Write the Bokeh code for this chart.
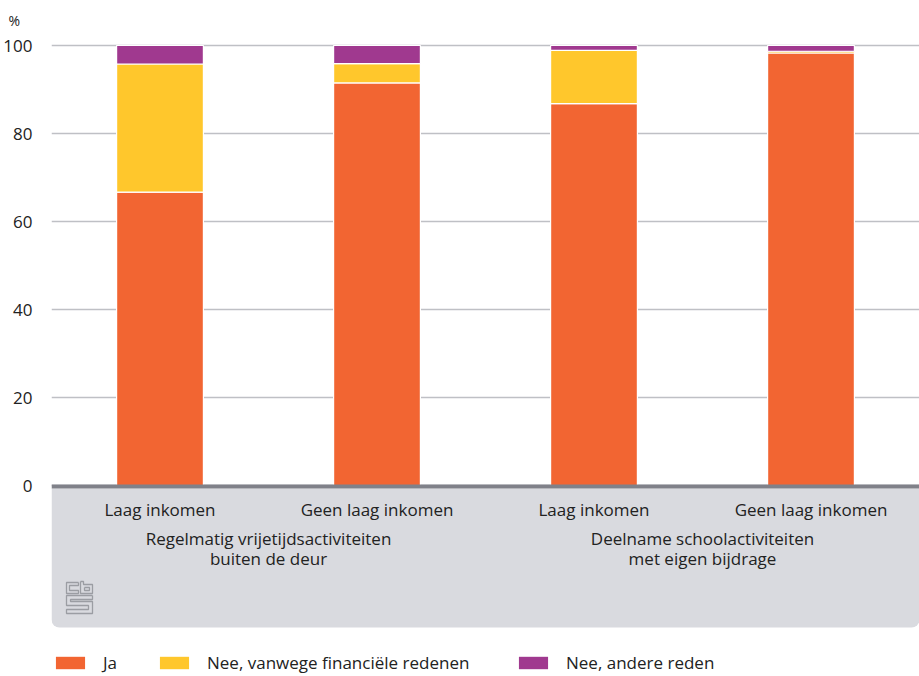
from bokeh.plotting import figure
from bokeh.models import Range1d, FixedTicker, Legend, LegendItem, Span, ColumnDataSource
from bokeh.core.properties import value
from bokeh.embed import file_html
from bokeh.resources import INLINE

# ---- data ----
categories = ["Laag inkomen", "Geen laag inkomen", "Laag inkomen", "Geen laag inkomen"]
groups = ["Regelmatig vrijetijdsactiviteiten\nbuiten de deur",
          "Deelname schoolactiviteiten\nmet eigen bijdrage"]
group_of = [0, 0, 1, 1]
series = ["Ja", "Nee, vanwege financiële redenen", "Nee, andere reden"]
ja = [66.7, 91.5, 86.8, 98.3]
nee_fin = [29.1, 4.4, 12.1, 0.4]
nee_andere = [4.2, 4.1, 1.1, 1.3]
y_ticks = [0, 20, 40, 60, 80, 100]
unit_label = "%"

colors = ["#f26532", "#ffc72c", "#a0398f"]
TEXT = "#222222"
FONT = "Open Sans"
FS = "17px"

W, H = 919, 676
LEFT, TOP = 51, 40
frame_w, frame_h = W - LEFT, H - TOP
x0, x1 = 0, len(categories)
y1 = 101.14
px_y = 1 / 4.4
y0 = y1 - frame_h * px_y
px_x = (x1 - x0) / frame_w

xs = [i + 0.5 for i in range(len(categories))]
source = ColumnDataSource(dict(x=xs, ja=ja, nee_fin=nee_fin, nee_andere=nee_andere))

p = figure(width=W, height=H, x_range=Range1d(x0, x1), y_range=Range1d(y0, y1),
           output_backend="svg", toolbar_location=None, x_axis_location=None,
           min_border_left=LEFT, min_border_right=0, min_border_top=TOP, min_border_bottom=0)
p.outline_line_color = None
p.background_fill_color = "white"

# unit label as title
p.title.text = unit_label
p.title.align = "left"
p.title.vertical_align = "top"
p.title.offset = 8 - LEFT
p.title.standoff = 18
p.title.text_font = FONT
p.title.text_font_size = "14px"
p.title.text_font_style = "normal"
p.title.text_color = TEXT

# y axis
p.yaxis.ticker = FixedTicker(ticks=y_ticks)
p.yaxis.axis_line_color = None
p.yaxis.major_tick_line_color = None
p.yaxis.minor_tick_line_color = None
p.yaxis.major_label_standoff = 13
p.yaxis.major_label_text_font = FONT
p.yaxis.major_label_text_font_size = FS
p.yaxis.major_label_text_color = TEXT
p.xgrid.visible = False
p.ygrid.ticker = FixedTicker(ticks=y_ticks)
p.ygrid.grid_line_color = "#bfc0c5"
p.ygrid.grid_line_width = 1.5

# grey category band
band_top = -3 * px_y
band_bottom = -142 * px_y
p.quad(left=x0, right=x1, top=band_top, bottom=band_bottom, fill_color="#d9dadf",
       line_color=None, border_radius=(0, 0, 8, 8))

# bars
renderers = p.vbar_stack(["ja", "nee_fin", "nee_andere"], x="x", width=0.4, source=source,
                         fill_color=colors, line_color="white", line_width=1.2)

# axis baseline
p.add_layout(Span(location=-1 * px_y, dimension="width", line_color="#808189", line_width=4))

# category labels
p.text(x=xs, y=[-24 * px_y] * len(xs), text=categories, text_align="center",
       text_baseline="middle", text_font=value(FONT), text_font_size=FS, text_color=TEXT)
gx, gy, gt = [], [], []
for g, name in enumerate(groups):
    members = [xs[i] for i in range(len(xs)) if group_of[i] == g]
    cx = sum(members) / len(members)
    for k, line in enumerate(name.split("\n")):
        gx.append(cx)
        gy.append(-(53 + 20 * k) * px_y)
        gt.append(line)
p.text(x=gx, y=gy, text=gt, text_align="center", text_baseline="middle",
       text_font=value(FONT), text_font_size=FS, text_color=TEXT)

# cbs logo (decorative), in pixel offsets
ox, oy = x0 + 15 * px_x, -96 * px_y
paths = [
    [(12, 1), (0, 1), (0, 12), (12, 12), (12, 9), (3, 9), (3, 4), (12, 4), (12, 1)],
    [(14, 0), (17, 0), (17, 3), (26, 3), (26, 12), (14, 12), (14, 0)],
    [(18, 6), (23, 6), (23, 9), (18, 9), (18, 6)],
    [(26, 14), (0, 14), (0, 24), (22, 24), (22, 28), (0, 28), (0, 32), (26, 32),
     (26, 20), (4, 20), (4, 18), (26, 18), (26, 14)],
]
p.multi_line(xs=[[ox + a * px_x for a, b in pth] for pth in paths],
             ys=[[oy - b * px_y for a, b in pth] for pth in paths],
             line_color="#9b9da3", line_width=1.3)

# legends
leg_x = [0, 104, 463]
for i, r in enumerate(renderers):
    leg = Legend(items=[LegendItem(label=series[i], renderers=[r])], location=(leg_x[i], 2),
                 orientation="horizontal", glyph_width=38, glyph_height=17, label_height=17,
                 label_standoff=14, padding=0, margin=0, border_line_color=None,
                 background_fill_alpha=0, label_text_font=FONT, label_text_font_size=FS,
                 label_text_color=TEXT, label_text_baseline="middle")
    p.add_layout(leg)

open("out.html", "w").write(file_html(p, INLINE))
